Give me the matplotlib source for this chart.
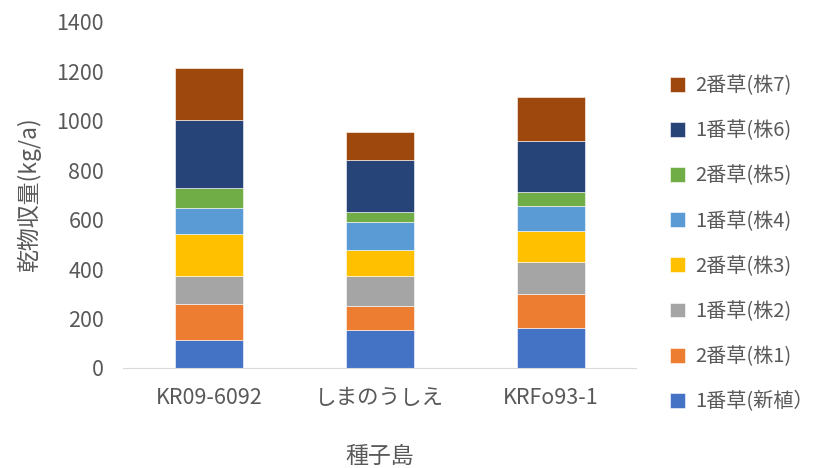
import numpy as np
import matplotlib.pyplot as plt

plt.rcParams['font.family'] = ['Noto Sans CJK JP', 'DejaVu Sans']

# 品種
varieties = ['KR09-6092', 'しまのうしえ', 'KRFo93-1']

# 各刈取りの乾物収量 (kg/a)
series_names = ['1番草(新植）', '2番草(株1)', '1番草(株2)', '2番草(株3)',
                '1番草(株4)', '2番草(株5)', '1番草(株6)', '2番草(株7)']
shinshoku = [114, 154, 162]
kabu1 = [146, 97, 138]
kabu2 = [111, 122, 127]
kabu3 = [172, 106, 125]
kabu4 = [104, 112, 103]
kabu5 = [82, 41, 57]
kabu6 = [274, 209, 208]
kabu7 = [210, 112, 178]
colors = ['#4472c4', '#ed7d31', '#a5a5a5', '#ffc000',
          '#5b9bd5', '#70ad47', '#264478', '#9e480e']

values = [shinshoku, kabu1, kabu2, kabu3, kabu4, kabu5, kabu6, kabu7]

fig = plt.figure(figsize=(8.23, 4.68), dpi=100)
ax = fig.add_axes([0.150, 0.214, 0.623, 0.739])

x = np.arange(len(varieties))
bottom = np.zeros(len(varieties))
for name, vals, c in zip(series_names, values, colors):
    ax.bar(x, vals, width=0.4, bottom=bottom, color=c, label=name,
           edgecolor='white', linewidth=0.4)
    bottom += np.array(vals)

grey = '#595959'
ax.set_xlim(-0.5, 2.5)
ax.set_ylim(0, 1400)
ax.set_yticks(np.arange(0, 1401, 200))
ax.set_xticks(x)
ax.set_xticklabels(varieties)
ax.tick_params(length=0, labelsize=15.5, colors=grey)
ax.tick_params(axis='x', pad=14)
ax.tick_params(axis='y', pad=14)
for s in ['top', 'right', 'left']:
    ax.spines[s].set_visible(False)
ax.spines['bottom'].set_color('#d9d9d9')

ax.set_ylabel('乾物収量(kg/a)', fontsize=16.5, color=grey, labelpad=11)
ax.set_xlabel('種子島', fontsize=16.5, color=grey, labelpad=26)

h, l = ax.get_legend_handles_labels()
leg = fig.legend(h[::-1], l[::-1], loc='upper left', bbox_to_anchor=(0.792, 0.878),
                 frameon=False, fontsize=14.5, labelspacing=1.2,
                 handlelength=0.75, handleheight=0.75, handletextpad=0.5)
for t in leg.get_texts():
    t.set_color(grey)

fig.savefig('out.png', dpi=100)
